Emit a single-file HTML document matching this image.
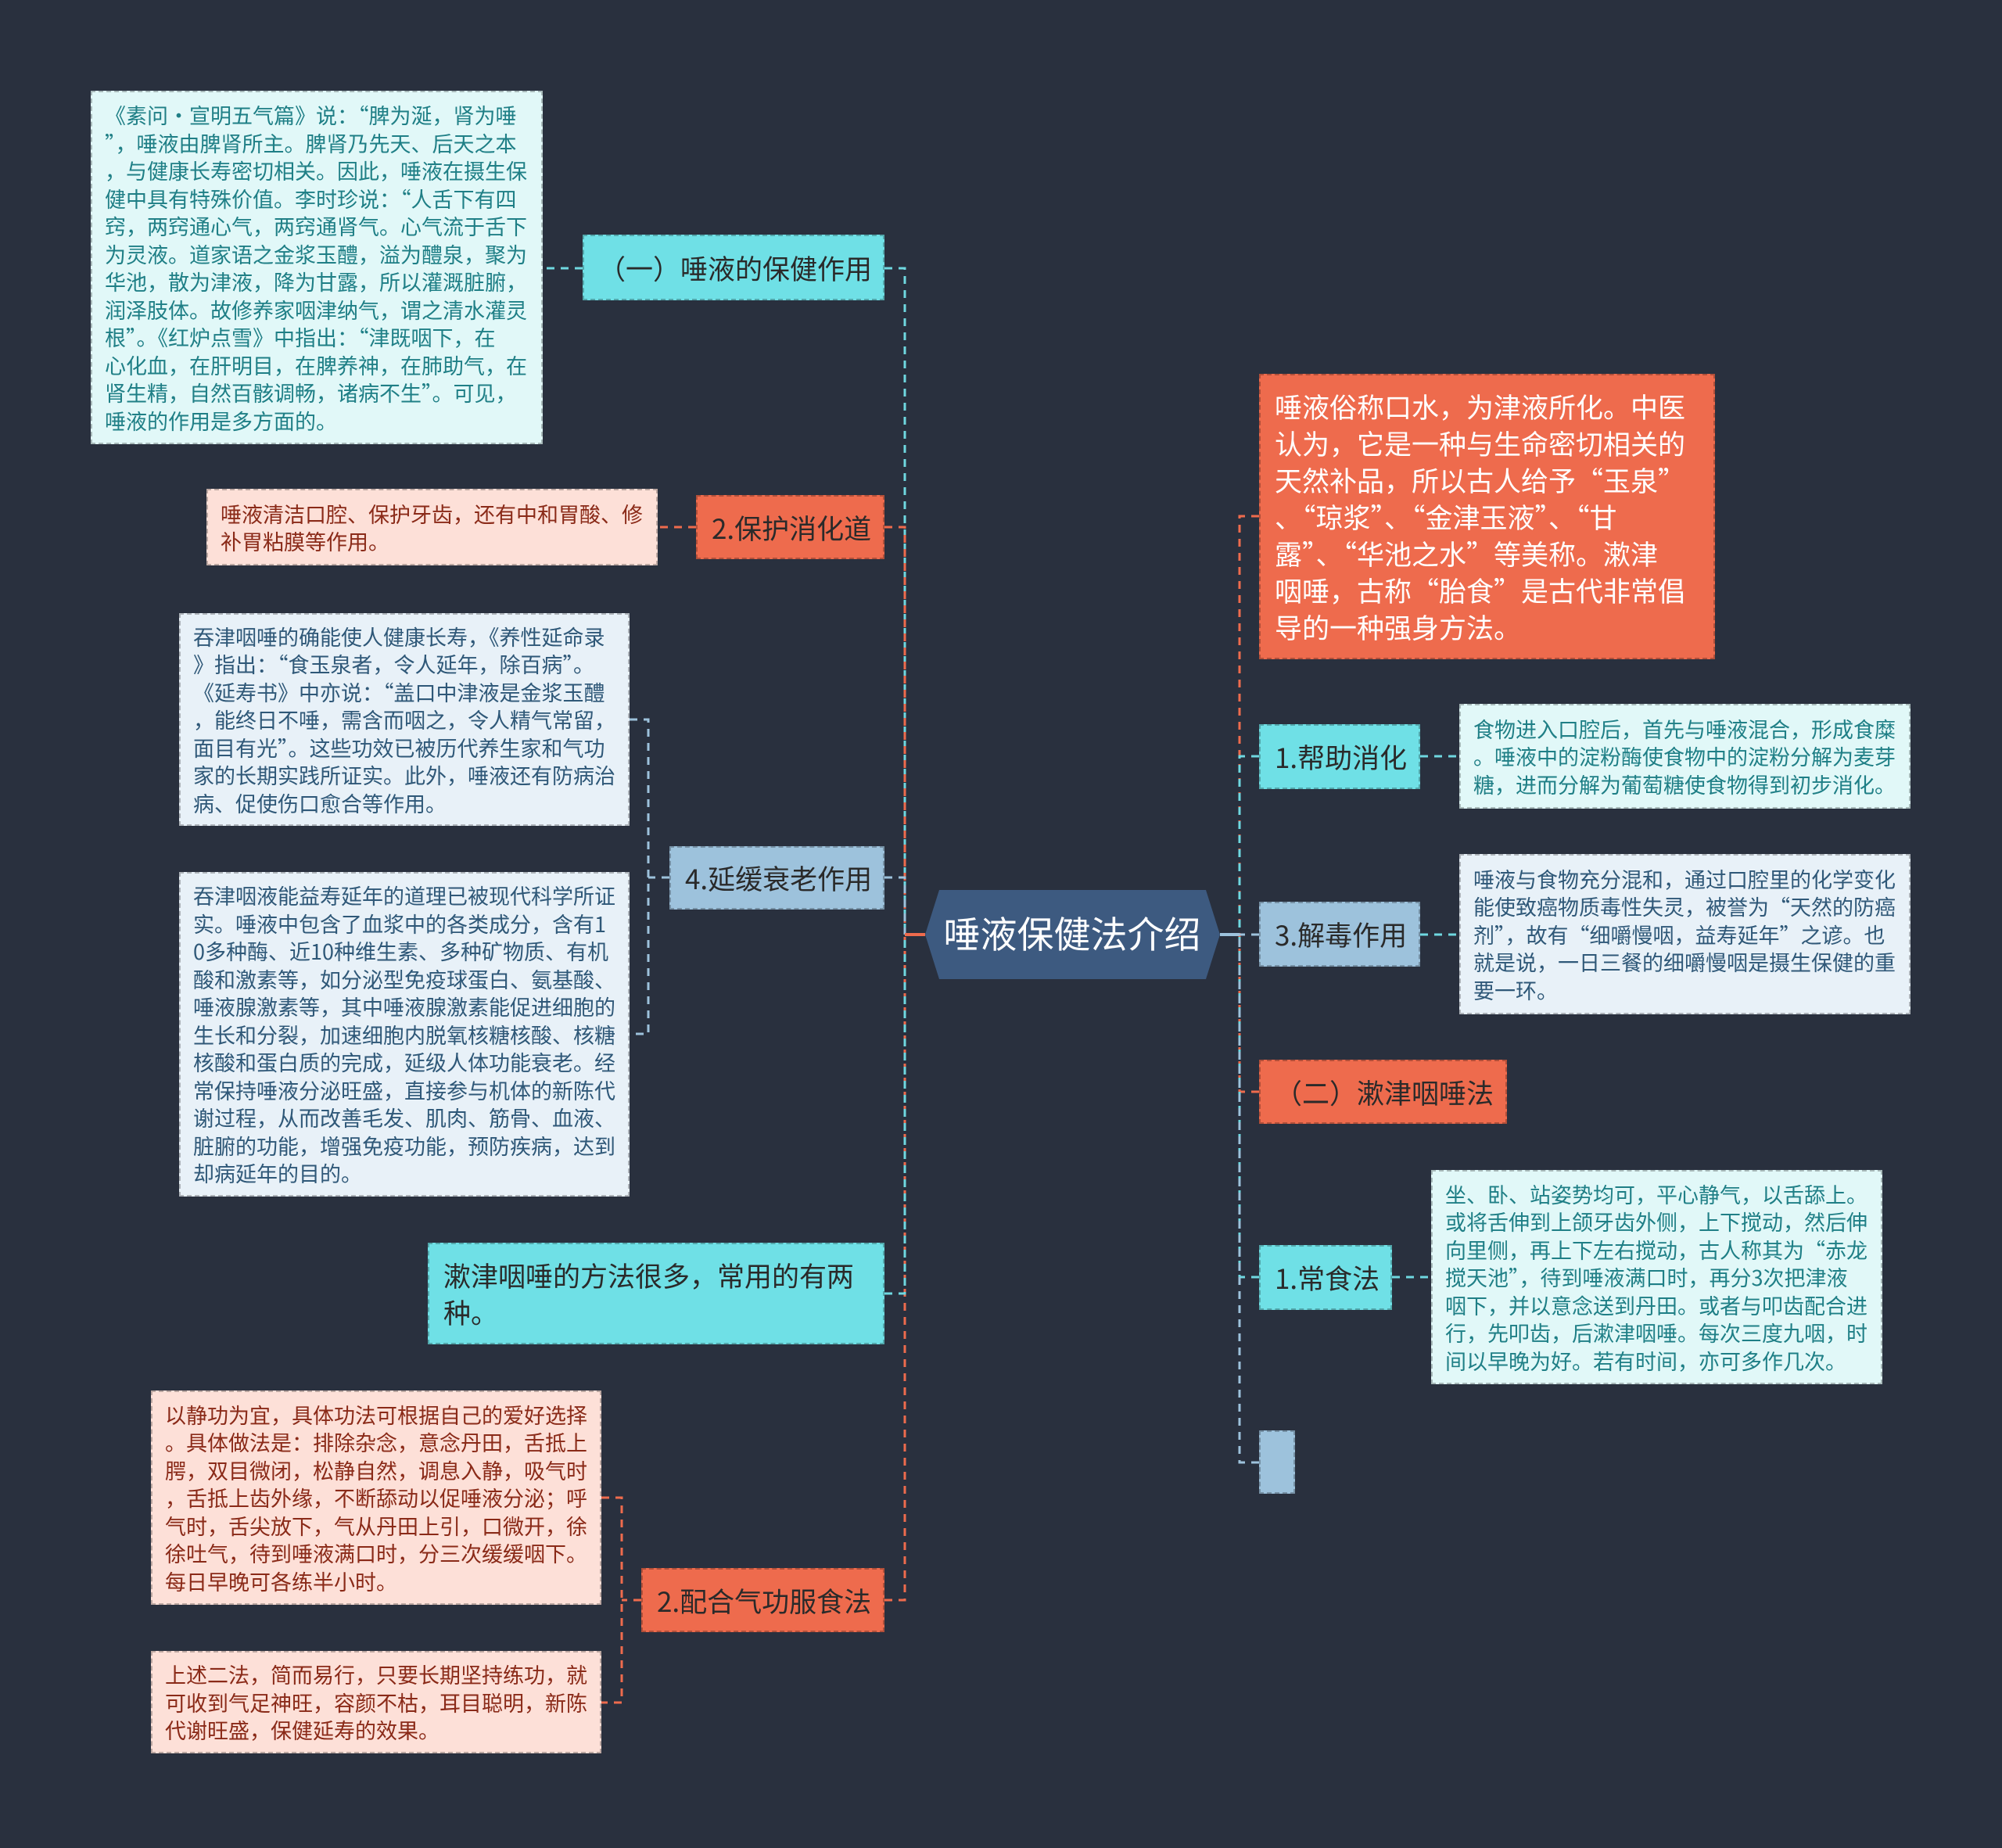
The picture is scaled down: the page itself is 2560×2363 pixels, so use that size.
<!DOCTYPE html>
<html><head><meta charset="utf-8"><style>
body{margin:0;width:2560px;height:2363px;background:#29303e;position:relative;overflow:hidden;font-family:"Noto Sans CJK SC","Liberation Sans",sans-serif}
.b{position:absolute;box-sizing:border-box;display:flex;flex-direction:column;justify-content:center;white-space:nowrap;border:2px dashed rgba(0,0,0,0.25)}
.t{font-size:27px;line-height:35.5px;padding:0 16px}
.c{background:#e1f8f8;color:#1f7f86}
.p{background:#fde0d8;color:#8a2a18}
.g{background:#e8f1f8;color:#2f5878}
.n{font-size:35px;line-height:47px;padding:0 18px;color:#2a2a2a}
.nc{background:#6fe0e6}
.no{background:#ee6b4d}
.nb{background:#9dc2dc}
</style></head><body>
<svg width="2560" height="2363" style="position:absolute;left:0;top:0">
<g fill="none" stroke-width="3" stroke-dasharray="10,8">
<path d="M1131 343H1157V1195" stroke="#6fd8e0"/>
<path d="M1131 674H1157V1195" stroke="#ee6b4d"/>
<path d="M1131 1122H1157V1195" stroke="#9dc2dc"/>
<path d="M1131 2046H1157V1195" stroke="#ee6b4d"/>
<path d="M1131 1654H1157V1195" stroke="#6fd8e0"/>
<path d="M745 343H694" stroke="#6fd8e0"/>
<path d="M890 674H841" stroke="#ee6b4d"/>
<path d="M856 1122H829M805 920H829V1322H805" stroke="#9dc2dc"/>
<path d="M820 2046H795M769 1915H795V2177H769" stroke="#ee6b4d"/>
<path d="M1610 660H1585V1195" stroke="#ee6b4d"/>
<path d="M1610 1396H1585V1195" stroke="#ee6b4d"/>
<path d="M1610 967H1585V1195" stroke="#6fd8e0"/>
<path d="M1610 1633H1585V1195" stroke="#6fd8e0"/>
<path d="M1610 1870H1585V1195" stroke="#9dc2dc"/>
<path d="M1610 1195H1585" stroke="#9dc2dc"/>
<path d="M1816 967H1866M1816 1195H1866" stroke="#6fd8e0"/>
<path d="M1780 1633H1830" stroke="#6fd8e0"/>
</g>
<path d="M1157 1195H1183" stroke="#ee6b4d" stroke-width="4"/>
<path d="M1560 1195H1585" stroke="#9dc2dc" stroke-width="4"/>
<polygon points="1201,1138 1542,1138 1560,1195 1542,1252 1201,1252 1183,1195" fill="#3d5a80"/>
<text x="1371" y="1212" text-anchor="middle" font-size="47" fill="#fff" font-family="Noto Sans CJK SC,Liberation Sans,sans-serif">唾液保健法介绍</text>
</svg>

<div class="b t c" style="left:116px;top:116px;width:578px;height:452px">《素问·宣明五气篇》说：“脾为涎，肾为唾<br>”，唾液由脾肾所主。脾肾乃先天、后天之本<br>，与健康长寿密切相关。因此，唾液在摄生保<br>健中具有特殊价值。李时珍说：“人舌下有四<br>窍，两窍通心气，两窍通肾气。心气流于舌下<br>为灵液。道家语之金浆玉醴，溢为醴泉，聚为<br>华池，散为津液，降为甘露，所以灌溉脏腑，<br>润泽肢体。故修养家咽津纳气，谓之清水灌灵<br>根”。《红炉点雪》中指出：“津既咽下，在<br>心化血，在肝明目，在脾养神，在肺助气，在<br>肾生精，自然百骸调畅，诸病不生”。可见，<br>唾液的作用是多方面的。</div>
<div class="b n nc" style="left:745px;top:300px;width:386px;height:84px">（一）唾液的保健作用</div>

<div class="b t p" style="left:264px;top:625px;width:577px;height:98px">唾液清洁口腔、保护牙齿，还有中和胃酸、修<br>补胃粘膜等作用。</div>
<div class="b n no" style="left:890px;top:633px;width:241px;height:82px">2.保护消化道</div>

<div class="b t g" style="left:229px;top:784px;width:576px;height:272px">吞津咽唾的确能使人健康长寿，《养性延命录<br>》指出：“食玉泉者，令人延年，除百病”。<br>《延寿书》中亦说：“盖口中津液是金浆玉醴<br>，能终日不唾，需含而咽之，令人精气常留，<br>面目有光”。这些功效已被历代养生家和气功<br>家的长期实践所证实。此外，唾液还有防病治<br>病、促使伤口愈合等作用。</div>
<div class="b t g" style="left:229px;top:1115px;width:576px;height:415px">吞津咽液能益寿延年的道理已被现代科学所证<br>实。唾液中包含了血浆中的各类成分，含有1<br>0多种酶、近10种维生素、多种矿物质、有机<br>酸和激素等，如分泌型免疫球蛋白、氨基酸、<br>唾液腺激素等，其中唾液腺激素能促进细胞的<br>生长和分裂，加速细胞内脱氧核糖核酸、核糖<br>核酸和蛋白质的完成，延级人体功能衰老。经<br>常保持唾液分泌旺盛，直接参与机体的新陈代<br>谢过程，从而改善毛发、肌肉、筋骨、血液、<br>脏腑的功能，增强免疫功能，预防疾病，达到<br>却病延年的目的。</div>
<div class="b n nb" style="left:856px;top:1082px;width:275px;height:81px">4.延缓衰老作用</div>

<div class="b n nc" style="left:547px;top:1589px;width:584px;height:130px">漱津咽唾的方法很多，常用的有两<br>种。</div>

<div class="b t p" style="left:193px;top:1778px;width:576px;height:274px">以静功为宜，具体功法可根据自己的爱好选择<br>。具体做法是：排除杂念，意念丹田，舌抵上<br>腭，双目微闭，松静自然，调息入静，吸气时<br>，舌抵上齿外缘，不断舔动以促唾液分泌；呼<br>气时，舌尖放下，气从丹田上引，口微开，徐<br>徐吐气，待到唾液满口时，分三次缓缓咽下。<br>每日早晚可各练半小时。</div>
<div class="b t p" style="left:193px;top:2111px;width:576px;height:131px">上述二法，简而易行，只要长期坚持练功，就<br>可收到气足神旺，容颜不枯，耳目聪明，新陈<br>代谢旺盛，保健延寿的效果。</div>
<div class="b n no" style="left:820px;top:2005px;width:311px;height:82px">2.配合气功服食法</div>

<div class="b n no" style="left:1610px;top:478px;width:583px;height:365px;color:#fff">唾液俗称口水，为津液所化。中医<br>认为，它是一种与生命密切相关的<br>天然补品，所以古人给予“玉泉”<br>、“琼浆”、“金津玉液”、“甘<br>露”、“华池之水”等美称。漱津<br>咽唾，古称“胎食”是古代非常倡<br>导的一种强身方法。</div>

<div class="b n nc" style="left:1610px;top:926px;width:206px;height:83px">1.帮助消化</div>
<div class="b t c" style="left:1866px;top:900px;width:577px;height:134px">食物进入口腔后，首先与唾液混合，形成食糜<br>。唾液中的淀粉酶使食物中的淀粉分解为麦芽<br>糖，进而分解为葡萄糖使食物得到初步消化。</div>

<div class="b n nb" style="left:1610px;top:1153px;width:206px;height:83px">3.解毒作用</div>
<div class="b t g" style="left:1866px;top:1092px;width:577px;height:205px">唾液与食物充分混和，通过口腔里的化学变化<br>能使致癌物质毒性失灵，被誉为“天然的防癌<br>剂”，故有“细嚼慢咽，益寿延年”之谚。也<br>就是说，一日三餐的细嚼慢咽是摄生保健的重<br>要一环。</div>

<div class="b n no" style="left:1610px;top:1355px;width:317px;height:82px">（二）漱津咽唾法</div>

<div class="b n nc" style="left:1610px;top:1592px;width:170px;height:83px">1.常食法</div>
<div class="b t c" style="left:1830px;top:1496px;width:577px;height:274px">坐、卧、站姿势均可，平心静气，以舌舔上。<br>或将舌伸到上颌牙齿外侧，上下搅动，然后伸<br>向里侧，再上下左右搅动，古人称其为“赤龙<br>搅天池”，待到唾液满口时，再分3次把津液<br>咽下，并以意念送到丹田。或者与叩齿配合进<br>行，先叩齿，后漱津咽唾。每次三度九咽，时<br>间以早晚为好。若有时间，亦可多作几次。</div>

<div class="b nb" style="left:1610px;top:1829px;width:46px;height:81px"></div>
</body></html>
